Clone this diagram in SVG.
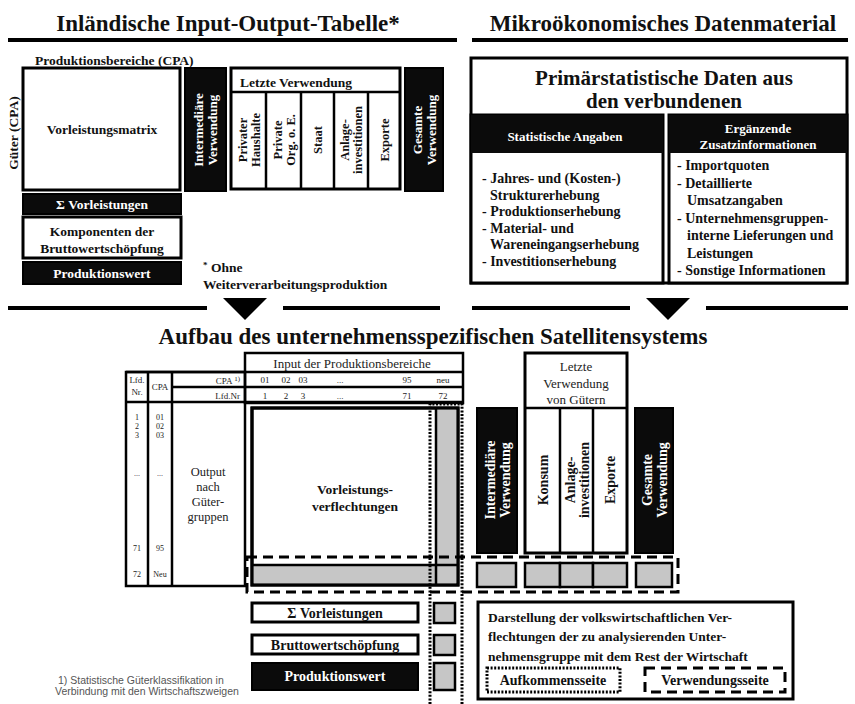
<svg xmlns="http://www.w3.org/2000/svg" width="855" height="704" viewBox="0 0 855 704">
<style>
.t{font-family:"Liberation Serif","Times New Roman",serif;font-weight:bold;fill:#111}
.w{fill:#fff}
.r{font-weight:normal;fill:#222}
.m{text-anchor:middle}
.e{text-anchor:end}
.box{fill:#fff;stroke:#000;stroke-width:3}
.dark{fill:#0b0b0b;stroke:#000;stroke-width:2}
.gray{fill:#c6c6c6;stroke:#000;stroke-width:2.5}
.gf{fill:#c6c6c6;stroke:none}
.ln{stroke:#000;stroke-width:4;fill:none}
.th{stroke:#000;stroke-width:2.5;fill:none}
.dot{fill:none;stroke:#000;stroke-width:3;stroke-dasharray:2 1.6}
.dash{fill:none;stroke:#000;stroke-width:3;stroke-dasharray:10 6}
.sans{font-family:"Liberation Sans",Arial,sans-serif;font-weight:normal;fill:#555}
</style>

<!-- Titles and rules -->
<g id="titles">
<text class="t m" x="228" y="31" font-size="23">Inländische Input-Output-Tabelle*</text>
<text class="t m" x="663" y="31" font-size="23">Mikroökonomisches Datenmaterial</text>
<text class="t m" x="433" y="344" font-size="23">Aufbau des unternehmensspezifischen Satellitensystems</text>
</g>
<g id="connectors">
<line class="ln" x1="8" y1="40" x2="457" y2="40"/>
<line class="ln" x1="472" y1="40" x2="848" y2="40"/>
<line class="ln" x1="8" y1="308" x2="207" y2="308"/>
<line class="ln" x1="283" y1="308" x2="440" y2="308"/>
<line class="ln" x1="472" y1="308" x2="630" y2="308"/>
<line class="ln" x1="706" y1="308" x2="848" y2="308"/>
<polygon points="223,298 267,298 245,320" fill="#000"/>
<polygon points="646,298 690,298 668,320" fill="#000"/>
</g>

<!-- Top left: input-output table -->
<g id="io-table">
<text class="t" x="35" y="65" font-size="13.5">Produktionsbereiche (CPA)</text>
<text class="t m" transform="translate(0,133) rotate(-90)" x="0" y="18" font-size="13.5">Güter (CPA)</text>
</g>
<g id="vorleistungsmatrix">
<rect class="box" x="23" y="68" width="157" height="122"/>
<text class="t m" x="102" y="134" font-size="13.5">Vorleistungsmatrix</text>
</g>
<g id="intermediaere-top">
<rect class="dark" x="185" y="68" width="41" height="123"/>
<text class="t w m" transform="translate(0,130) rotate(-90)" font-size="13"><tspan x="0" y="203">Intermediäre</tspan><tspan x="0" y="217">Verwendung</tspan></text>
</g>
<g id="letzte-verwendung-top">
<rect class="box" x="231" y="68" width="169" height="121"/>
<line class="th" x1="231" y1="92" x2="400" y2="92" stroke-width="3"/>
<line class="th" x1="266" y1="92" x2="266" y2="189"/>
<line class="th" x1="301" y1="92" x2="301" y2="189"/>
<line class="th" x1="334" y1="92" x2="334" y2="189"/>
<line class="th" x1="368" y1="92" x2="368" y2="189"/>
<text class="t" x="240" y="87" font-size="13.5">Letzte Verwendung</text>
<text class="t m" transform="translate(0,140) rotate(-90)" font-size="12.5"><tspan x="0" y="247">Privater</tspan><tspan x="0" y="260">Haushalte</tspan></text>
<text class="t m" transform="translate(0,140) rotate(-90)" font-size="12.5"><tspan x="0" y="281.5">Private</tspan><tspan x="0" y="294.5">Org. o. E.</tspan></text>
<text class="t m" transform="translate(0,140) rotate(-90)" font-size="12.5"><tspan x="0" y="322">Staat</tspan></text>
<text class="t m" transform="translate(0,140) rotate(-90)" font-size="12.5"><tspan x="0" y="349">Anlage-</tspan><tspan x="0" y="362">investitionen</tspan></text>
<text class="t m" transform="translate(0,140) rotate(-90)" font-size="12.5"><tspan x="0" y="388.5">Exporte</tspan></text>
</g>
<g id="gesamte-top">
<rect class="dark" x="405" y="68" width="38" height="123"/>
<text class="t w m" transform="translate(0,130) rotate(-90)" font-size="13"><tspan x="0" y="422">Gesamte</tspan><tspan x="0" y="436">Verwendung</tspan></text>
</g>
<g id="sum-vorleistungen-top">
<rect class="dark" x="23" y="194" width="158" height="20"/>
<text class="t w m" x="102" y="209" font-size="13.5">Σ Vorleistungen</text>
</g>
<g id="komponenten">
<rect class="box" x="23" y="217" width="158" height="41"/>
<text class="t m" x="102" y="236" font-size="13.5">Komponenten der</text>
<text class="t m" x="102" y="253" font-size="13.5">Bruttowertschöpfung</text>
</g>
<g id="produktionswert-top">
<rect class="dark" x="23" y="262" width="158" height="22"/>
<text class="t w m" x="102" y="278" font-size="13.5">Produktionswert</text>
</g>
<g id="footnote-top">
<text class="t" x="203" y="272" font-size="13.5"><tspan font-size="9" dy="-4">*</tspan><tspan dy="4"> Ohne</tspan></text>
<text class="t" x="203" y="289" font-size="13.5">Weiterverarbeitungsproduktion</text>
</g>

<!-- Top right: micro data -->
<g id="primaerdaten">
<rect class="box" x="471" y="58" width="376" height="225"/>
<text class="t m" x="664" y="85" font-size="21">Primärstatistische Daten aus</text>
<text class="t m" x="664" y="108" font-size="21">den verbundenen</text>
</g>
<g id="statistische-angaben">
<rect class="box" x="471" y="115" width="192" height="168"/>
<rect x="471" y="115" width="192" height="38" fill="#0b0b0b"/>
<text class="t w m" x="565" y="141" font-size="13">Statistische Angaben</text>
<text class="t" font-size="14"><tspan x="482" y="183">- Jahres- und (Kosten-)</tspan><tspan x="490" y="199.5">Strukturerhebung</tspan><tspan x="482" y="216">- Produktionserhebung</tspan><tspan x="482" y="232.5">- Material- und</tspan><tspan x="490" y="249">Wareneingangserhebung</tspan><tspan x="482" y="265.5">- Investitionserhebung</tspan></text>
</g>
<g id="zusatzinformationen">
<rect class="box" x="669" y="115" width="178" height="168"/>
<rect x="669" y="115" width="178" height="38" fill="#0b0b0b"/>
<text class="t w m" x="758" y="133" font-size="13">Ergänzende</text>
<text class="t w m" x="758" y="149" font-size="13">Zusatzinformationen</text>
<text class="t" font-size="14"><tspan x="677" y="170">- Importquoten</tspan><tspan x="677" y="188">- Detaillierte</tspan><tspan x="687" y="205">Umsatzangaben</tspan><tspan x="677" y="223">- Unternehmensgruppen-</tspan><tspan x="687" y="240">interne Lieferungen und</tspan><tspan x="687" y="258">Leistungen</tspan><tspan x="677" y="275">- Sonstige Informationen</tspan></text>
</g>

<!-- Bottom: satellite system -->
<g id="input-header">
<rect class="th" x="245" y="353" width="218" height="50"/>
<line class="th" x1="126" y1="372" x2="463" y2="372"/>
<line class="th" x1="172" y1="387" x2="463" y2="387"/>
<text class="t r m" x="352" y="368" font-size="13">Input der Produktionsbereiche</text>
<g class="t r m" font-size="9">
<text x="265" y="383">01</text><text x="286" y="383">02</text><text x="303" y="383">03</text><text x="340" y="383">...</text><text x="407" y="383">95</text><text x="443" y="383">neu</text>
<text x="265" y="399">1</text><text x="286" y="399">2</text><text x="303" y="399">3</text><text x="340" y="399">...</text><text x="407" y="399">71</text><text x="443" y="399">72</text>
</g>
</g>
<g id="output-table">
<rect class="th" x="126" y="372" width="119" height="214"/>
<line class="th" x1="148" y1="372" x2="148" y2="586"/>
<line class="th" x1="172" y1="372" x2="172" y2="586"/>
<line class="th" x1="126" y1="402" x2="463" y2="402"/>
<g class="t r m" font-size="9">
<text x="137" y="383">Lfd.</text><text x="137" y="395">Nr.</text>
<text x="160" y="390">CPA</text>
</g>
<g class="t r m" font-size="8">
<text x="137" y="420">1</text><text x="137" y="429">2</text><text x="137" y="438">3</text><text x="137" y="476">...</text><text x="137" y="551">71</text><text x="137" y="577">72</text>
<text x="160" y="420">01</text><text x="160" y="429">02</text><text x="160" y="438">03</text><text x="160" y="476">...</text><text x="160" y="551">95</text><text x="160" y="577">Neu</text>
</g>
<text class="t r e" x="240" y="384" font-size="9">CPA <tspan font-size="7" dy="-3">1)</tspan></text>
<text class="t r e" x="240" y="399" font-size="9">Lfd.Nr</text>
<text class="t r m" font-size="12.5"><tspan x="208" y="476">Output</tspan><tspan x="208" y="491">nach</tspan><tspan x="208" y="506">Güter-</tspan><tspan x="208" y="521">gruppen</tspan></text>
</g>
<g id="vorleistungsverflechtungen">
<rect class="box" x="252" y="408" width="206" height="177"/>
<rect class="gf" x="436" y="409.5" width="20.5" height="174"/>
<rect class="gf" x="253.5" y="565" width="183" height="18.5"/>
<line class="th" x1="436" y1="408" x2="436" y2="585" stroke-width="2"/>
<line class="th" x1="252" y1="565" x2="458" y2="565" stroke-width="3"/>
<rect fill="none" stroke="#000" stroke-width="3" x="252" y="408" width="206" height="177"/>
<text class="t m" x="355" y="494" font-size="13.5">Vorleistungs-</text>
<text class="t m" x="355" y="511" font-size="13.5">verflechtungen</text>
</g>
<g id="intermediaere-bottom">
<rect class="dark" x="477" y="408" width="40" height="145"/>
<text class="t w m" transform="translate(0,480) rotate(-90)" font-size="14"><tspan x="0" y="495">Intermediäre</tspan><tspan x="0" y="510">Verwendung</tspan></text>
</g>
<g id="letzte-verwendung-bottom">
<rect class="box" x="525" y="353" width="102" height="200"/>
<line class="th" x1="525" y1="408" x2="627" y2="408" stroke-width="3"/>
<line class="th" x1="560" y1="408" x2="560" y2="553"/>
<line class="th" x1="593" y1="408" x2="593" y2="553"/>
<text class="t r m" font-size="13"><tspan x="576" y="371">Letzte</tspan><tspan x="576" y="388">Verwendung</tspan><tspan x="576" y="404">von Gütern</tspan></text>
<text class="t m" transform="translate(0,480) rotate(-90)" font-size="14"><tspan x="0" y="547.5">Konsum</tspan></text>
<text class="t m" transform="translate(0,480) rotate(-90)" font-size="14"><tspan x="0" y="575">Anlage-</tspan><tspan x="0" y="589">investitionen</tspan></text>
<text class="t m" transform="translate(0,480) rotate(-90)" font-size="14"><tspan x="0" y="615">Exporte</tspan></text>
</g>
<g id="gesamte-bottom">
<rect class="dark" x="635" y="408" width="38" height="145"/>
<text class="t w m" transform="translate(0,480) rotate(-90)" font-size="14"><tspan x="0" y="652">Gesamte</tspan><tspan x="0" y="667">Verwendung</tspan></text>
</g>
<g id="use-row">
<rect class="gray" x="477" y="563" width="39" height="24"/>
<rect class="gray" x="525" y="563" width="35" height="24"/>
<rect class="gray" x="560" y="563" width="33" height="24"/>
<rect class="gray" x="593" y="563" width="34" height="24"/>
<rect class="gray" x="636" y="563" width="36" height="24"/>
</g>
<g id="sum-vorleistungen-bottom">
<rect class="box" x="252" y="603" width="166" height="19"/>
<text class="t m" x="335" y="618" font-size="14">Σ Vorleistungen</text>
<rect class="gray" x="434" y="603" width="21" height="20"/>
</g>
<g id="bruttowertschoepfung">
<rect class="box" x="252" y="635" width="166" height="19"/>
<text class="t m" x="335" y="650" font-size="14">Bruttowertschöpfung</text>
<rect class="gray" x="434" y="635" width="21" height="20"/>
</g>
<g id="produktionswert-bottom">
<rect class="dark" x="252" y="663" width="166" height="27"/>
<text class="t w m" x="335" y="681" font-size="14">Produktionswert</text>
<rect class="gray" x="434" y="663" width="21" height="27"/>
</g>
<g id="aufkommensseite-frame">
<path class="dot" d="M430,704 V404 H462 V704"/>
</g>
<g id="verwendungsseite-frame">
<rect class="dash" x="247" y="557" width="431" height="35"/>
</g>
<g id="legend">
<rect class="box" x="478" y="602" width="315" height="97"/>
<text class="t" font-size="13.5"><tspan x="488" y="622">Darstellung der volkswirtschaftlichen Ver-</tspan><tspan x="488" y="641">flechtungen der zu analysierenden Unter-</tspan><tspan x="488" y="661">nehmensgruppe mit dem Rest der Wirtschaft</tspan></text>
<rect class="dot" x="487" y="668" width="133" height="24"/>
<text class="t m" x="553" y="685" font-size="14">Aufkommensseite</text>
<rect class="dash" x="645" y="668" width="140" height="24"/>
<text class="t m" x="715" y="685" font-size="14">Verwendungsseite</text>
</g>
<g id="footnote-bottom">
<text class="sans" x="58" y="684" font-size="10.5">1) Statistische Güterklassifikation in</text>
<text class="sans" x="55" y="695" font-size="10.5">Verbindung mit den Wirtschaftszweigen</text>
</g>
</svg>
